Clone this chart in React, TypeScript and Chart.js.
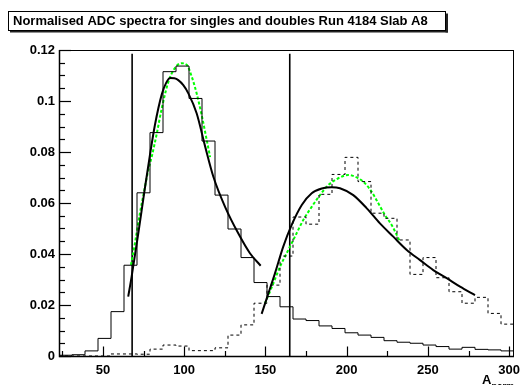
import React, { useEffect, useRef } from "react";
import { Chart, registerables } from "chart.js";

Chart.register(...registerables);

const titleText = "Normalised ADC spectra for singles and doubles Run 4184 Slab A8";
const xAxisMain = "A";
const xAxisSub = "norm";

// histogram bin edges (ADC units)
const binEdges = [
  23, 31, 39, 47, 55, 63, 71, 79, 87, 95, 103, 111, 119, 127, 135, 143, 151, 159,
  167, 175, 183, 191, 199, 207, 215, 223, 231, 239, 247, 255, 263, 271, 279, 287, 295, 303,
];

// singles histogram (solid)
const singlesValues = [
  0.0003, 0.0005, 0.002, 0.0069, 0.0174, 0.0356, 0.064, 0.0876, 0.1115, 0.1137, 0.101,
  0.0843, 0.0631, 0.0498, 0.0386, 0.0288, 0.0233, 0.0193, 0.0145, 0.0139, 0.0118, 0.0108,
  0.0091, 0.0082, 0.0073, 0.006, 0.0054, 0.005, 0.0043, 0.0037, 0.0027, 0.0034, 0.0026,
  0.0024, 0.002,
];

// doubles histogram (dashed)
const doublesValues = [
  0, 0, 0, 0, 0.0008, 0.0008, 0.0007, 0.0027, 0.0043, 0.0039, 0.0021, 0.0021, 0.0032,
  0.0082, 0.0122, 0.0207, 0.0278, 0.0392, 0.0545, 0.0517, 0.0634, 0.0712, 0.0779, 0.0684,
  0.056, 0.054, 0.0455, 0.032, 0.0386, 0.0307, 0.0252, 0.0207, 0.023, 0.0167, 0.0125,
];

// fit curves
const singlesFitBlackX = [65.6, 67.7, 71.8, 75.9, 79, 82, 86.2, 89, 91.5, 94, 96.4, 99.5, 102.6, 107.7, 112.8, 118, 125.2, 133.3, 140.5, 147.1];
const singlesFitBlackY = [0.0233, 0.0311, 0.0481, 0.066, 0.079, 0.0905, 0.1025, 0.1072, 0.109, 0.1089, 0.1082, 0.1062, 0.103, 0.0952, 0.0825, 0.0703, 0.0585, 0.0481, 0.0403, 0.0354];

const singlesFitGreenX = [67.3, 69.8, 72.8, 75.5, 78, 80, 83.1, 86.2, 90.3, 94.4, 98.5, 101.6, 104.7, 107.7, 110.8, 113.5, 116];
const singlesFitGreenY = [0.0357, 0.0445, 0.056, 0.065, 0.073, 0.078, 0.087, 0.097, 0.1075, 0.113, 0.1148, 0.1142, 0.1095, 0.103, 0.0945, 0.086, 0.078];

const doublesFitBlackX = [147.7, 151.2, 155.9, 161, 166.2, 172.4, 178.5, 184.7, 190.8, 195.9, 204.1, 212.4, 220.5, 228.7, 237, 245.2, 253.3, 261.6, 269.8, 279];
const doublesFitBlackY = [0.0165, 0.0233, 0.0324, 0.0429, 0.0514, 0.0592, 0.0638, 0.0657, 0.0662, 0.0658, 0.0631, 0.0579, 0.052, 0.0468, 0.0416, 0.0376, 0.0337, 0.0305, 0.0272, 0.0239];

const doublesFitGreenX = [149.8, 154.9, 159, 163.1, 168.2, 173.3, 178.5, 183.6, 188.7, 194.9, 201, 207.2, 211.3, 215.4, 219.5, 223.6, 227.7, 231.8, 232.8];
const doublesFitGreenY = [0.0207, 0.0285, 0.035, 0.0403, 0.0468, 0.0533, 0.0585, 0.0631, 0.067, 0.0697, 0.071, 0.0697, 0.0677, 0.0644, 0.0599, 0.0553, 0.0514, 0.0462, 0.0448];

// cut lines
const cutPositions = [68, 165];
const cutTop = 0.1185;

// axes
const xMin = 23;
const xMax = 303;
const yMin = 0;
const yMax = 0.12;
const xTickValues = [50, 100, 150, 200, 250, 300];
const yTickValues = [0, 0.02, 0.04, 0.06, 0.08, 0.1, 0.12];
const xMinorStep = 25;
const yMinorStep = 0.005;

const FONT = "'Liberation Sans', Arial, sans-serif";

function histPoints(edges: number[], values: number[]) {
  return edges.map((e, i) => ({ x: e, y: i < values.length ? values[i] : values[values.length - 1] }));
}
function curvePoints(xs: number[], ys: number[]) {
  return xs.map((x, i) => ({ x, y: ys[i] }));
}

const titleBoxPlugin = {
  id: "titleBox",
  beforeDraw(chart: any) {
    const ctx = chart.ctx;
    ctx.save();
    ctx.fillStyle = "#ffffff";
    ctx.fillRect(0, 0, chart.width, chart.height);
    ctx.fillStyle = "#222";
    ctx.fillRect(10, 30, 438, 2.5);
    ctx.fillRect(445.5, 13.5, 2.5, 19);
    ctx.fillStyle = "#fff";
    ctx.fillRect(8.5, 11.5, 437, 19);
    ctx.strokeStyle = "#000";
    ctx.lineWidth = 1;
    ctx.strokeRect(8.5, 11.5, 437, 19);
    ctx.restore();
  },
};

const frameTicksPlugin = {
  id: "frameTicks",
  afterDraw(chart: any) {
    const ctx: CanvasRenderingContext2D = chart.ctx;
    const a = chart.chartArea;
    const xs = chart.scales.x;
    const ys = chart.scales.y;
    ctx.save();
    ctx.setLineDash([]);
    ctx.strokeStyle = "#000";
    ctx.globalAlpha = 1;
    // frame
    ctx.lineWidth = 1;
    ctx.strokeRect(a.left + 0.5, a.top + 0.5, a.right - a.left - 1, a.bottom - a.top);
    ctx.lineWidth = 1.5;
    ctx.beginPath();
    ctx.moveTo(a.left + 0.5, a.top);
    ctx.lineTo(a.left + 0.5, a.bottom + 0.5);
    ctx.lineTo(a.right, a.bottom + 0.5);
    ctx.stroke();
    // ticks inside the frame
    ctx.lineWidth = 1.2;
    const kx0 = Math.ceil(xMin / xMinorStep);
    const kx1 = Math.floor(xMax / xMinorStep);
    for (let k = kx0; k <= kx1; k++) {
      const v = k * xMinorStep;
      const px = Math.round(xs.getPixelForValue(v)) + 0.5;
      const major = xTickValues.indexOf(v) >= 0;
      ctx.beginPath();
      ctx.moveTo(px, a.bottom);
      ctx.lineTo(px, a.bottom - (major ? 9.5 : 5));
      ctx.stroke();
    }
    const ky1 = Math.round(yMax / yMinorStep);
    for (let k = 0; k <= ky1; k++) {
      const v = k * yMinorStep;
      const py = Math.round(ys.getPixelForValue(v)) + 0.5;
      const major = k % 4 === 0;
      ctx.beginPath();
      ctx.moveTo(a.left, py);
      ctx.lineTo(a.left + (major ? 12 : 6), py);
      ctx.stroke();
    }
    // x axis title with subscript
    ctx.fillStyle = "#000";
    ctx.textBaseline = "alphabetic";
    ctx.textAlign = "left";
    ctx.font = `bold 13px ${FONT}`;
    ctx.fillText(xAxisMain, 482, 384);
    const w = ctx.measureText(xAxisMain).width;
    ctx.font = `bold 9px ${FONT}`;
    ctx.fillText(xAxisSub, 482 + w, 388.5);
    ctx.restore();
  },
};

export default function App() {
  const ref = useRef<HTMLCanvasElement | null>(null);

  useEffect(() => {
    document.body.style.margin = "0";
    if (!ref.current) return;
    const lineBase = { pointRadius: 0, pointHoverRadius: 0, fill: false, tension: 0 };
    const datasets: any[] = [
      { ...lineBase, data: histPoints(binEdges, singlesValues), borderColor: "#000", borderWidth: 1, stepped: true },
      { ...lineBase, data: histPoints(binEdges, doublesValues), borderColor: "#000", borderWidth: 1, stepped: true, borderDash: [3, 3] },
      { ...lineBase, data: curvePoints(singlesFitBlackX, singlesFitBlackY), borderColor: "#000", borderWidth: 2, cubicInterpolationMode: "monotone" },
      { ...lineBase, data: curvePoints(doublesFitBlackX, doublesFitBlackY), borderColor: "#000", borderWidth: 2, cubicInterpolationMode: "monotone" },
      { ...lineBase, data: curvePoints(singlesFitGreenX, singlesFitGreenY), borderColor: "#00ff00", borderWidth: 2, borderDash: [3, 2], cubicInterpolationMode: "monotone" },
      { ...lineBase, data: curvePoints(doublesFitGreenX, doublesFitGreenY), borderColor: "#00ff00", borderWidth: 2, borderDash: [3, 2], cubicInterpolationMode: "monotone" },
      ...cutPositions.map((c) => ({ ...lineBase, data: [{ x: c, y: 0 }, { x: c, y: cutTop }], borderColor: "#000", borderWidth: 1.6 })),
    ];
    const chart = new Chart(ref.current, {
      type: "line",
      data: { datasets },
      plugins: [titleBoxPlugin, frameTicksPlugin],
      options: {
        animation: false,
        responsive: false,
        devicePixelRatio: 1,
        events: [],
        layout: { padding: { left: 13, right: 6, top: 0, bottom: 0 } },
        plugins: {
          legend: { display: false },
          tooltip: { enabled: false },
          title: {
            display: true,
            text: titleText,
            align: "start",
            color: "#000",
            font: { family: FONT, weight: "bold", size: 13 },
            padding: { top: 13.5, bottom: 20.9 },
          },
        },
        scales: {
          x: {
            type: "linear",
            min: xMin,
            max: xMax,
            grid: { display: false, drawTicks: false },
            border: { display: false },
            afterBuildTicks: (s: any) => {
              s.ticks = xTickValues.map((v) => ({ value: v }));
            },
            afterFit: (s: any) => {
              s.height = 29;
              s.paddingLeft = 0;
              s.paddingRight = 0;
            },
            ticks: {
              autoSkip: false,
              maxRotation: 0,
              padding: 7,
              color: "#000",
              font: { family: FONT, weight: "bold", size: 13 },
              callback: (v: any) => String(v),
            },
          },
          y: {
            type: "linear",
            min: yMin,
            max: yMax,
            grid: { display: false, drawTicks: false },
            border: { display: false },
            afterBuildTicks: (s: any) => {
              s.ticks = yTickValues.map((v) => ({ value: v }));
            },
            afterFit: (s: any) => {
              s.width = 46;
              s.paddingTop = 0;
              s.paddingBottom = 0;
            },
            ticks: {
              autoSkip: false,
              padding: 4,
              color: "#000",
              font: { family: FONT, weight: "bold", size: 13 },
              callback: (v: any) => String(Number(Number(v).toFixed(3))),
            },
          },
        },
      } as any,
    });
    return () => chart.destroy();
  }, []);

  return (
    <div style={{ position: "absolute", left: 0, top: 0, width: 520, height: 385, background: "#fff" }}>
      <canvas ref={ref} width={520} height={385} />
    </div>
  );
}
